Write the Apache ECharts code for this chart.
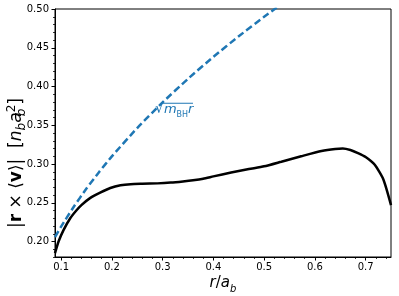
<!DOCTYPE html>
<html><head><meta charset="utf-8">
<script src="https://cdn.jsdelivr.net/npm/echarts@6/dist/echarts.min.js"></script>
<style>html,body{margin:0;padding:0;background:#fff}#c{width:399px;height:296px}</style>
</head><body><div id="c"></div>
<script>
// black curve: |r x <v>| vs r/a_b
const rValues = [0.088,0.095,0.105,0.118,0.130,0.140,0.157,0.177,0.197,0.217,0.237,0.260,0.290,0.316,0.340,0.360,0.380,0.400,0.435,0.470,0.500,0.534,0.573,0.613,0.640,0.655,0.670,0.685,0.700,0.718,0.735,0.750];
const angMom  = [0.185,0.200,0.215,0.230,0.240,0.247,0.256,0.263,0.269,0.2725,0.274,0.2745,0.275,0.276,0.2775,0.279,0.281,0.284,0.289,0.2935,0.297,0.303,0.310,0.3168,0.3195,0.320,0.318,0.314,0.309,0.299,0.280,0.247];
// blue dashed curve: sqrt(m_BH r)
const rSqrt    = [0.088,0.100,0.125,0.150,0.175,0.200,0.250,0.300,0.350,0.400,0.450,0.500,0.525];
const sqrtVals = [0.2055,0.2191,0.2449,0.2683,0.2898,0.3098,0.3464,0.3795,0.4099,0.4382,0.4648,0.4899,0.5020];
// ticks
const xTickLabels = [0.1,0.2,0.3,0.4,0.5,0.6,0.7];
const yTickLabels = [0.20,0.25,0.30,0.35,0.40,0.45,0.50];
const xMinorTicks = [0.10,0.12,0.14,0.16,0.18,0.20,0.22,0.24,0.26,0.28,0.30,0.32,0.34,0.36,0.38,0.40,0.42,0.44,0.46,0.48,0.50,0.52,0.54,0.56,0.58,0.60,0.62,0.64,0.66,0.68,0.70,0.72,0.74];
const yMinorTicks = [0.18,0.19,0.20,0.21,0.22,0.23,0.24,0.25,0.26,0.27,0.28,0.29,0.30,0.31,0.32,0.33,0.34,0.35,0.36,0.37,0.38,0.39,0.40,0.41,0.42,0.43,0.44,0.45,0.46,0.47,0.48,0.49,0.50];
const xRange = [0.088, 0.75];
const yRange = [0.18, 0.50];
const annotPos = [0.285, 0.370];

const FONT = 'DejaVu Sans';
const gridBox = {left:55, right:8, top:9, bottom:39, outerBoundsMode:'none', containLabel:false};
const chart = echarts.init(document.getElementById('c'), null, {renderer:'canvas'});
function mkRich(fs, lh){
  const s = Math.round(fs*0.68);
  return {
    b:{fontWeight:'bold', fontSize:fs, fontFamily:FONT, color:'#000', lineHeight:lh},
    i:{fontStyle:'italic', fontSize:fs, fontFamily:FONT, color:'#000', lineHeight:lh},
    n:{fontSize:fs, fontFamily:FONT, color:'#000', lineHeight:lh},
    sub:{fontStyle:'italic', fontSize:s, fontFamily:FONT, color:'#000', lineHeight:s, verticalAlign:'bottom'},
    subz:{fontStyle:'italic', fontSize:s, fontFamily:FONT, color:'#000', lineHeight:s, verticalAlign:'bottom', width:0.1},
    sup:{fontSize:s, fontFamily:FONT, color:'#000', lineHeight:s, verticalAlign:'top'}
  };
}
chart.setOption({
  animation:false,
  backgroundColor:'#fff',
  grid:[Object.assign({show:true, borderColor:'#000', borderWidth:1, backgroundColor:'transparent'}, gridBox),
        Object.assign({show:false}, gridBox)],
  xAxis:[{
    type:'value', gridIndex:0, min:xRange[0], max:xRange[1],
    axisLine:{show:true, onZero:false, lineStyle:{color:'#000', width:1}},
    axisTick:{show:true, length:3.5, customValues:xTickLabels, lineStyle:{color:'#000', width:1}},
    axisLabel:{customValues:xTickLabels, color:'#000', fontSize:10, fontFamily:FONT, margin:5, formatter:v=>v.toFixed(1)},
    splitLine:{show:false},
    name:'{i|r}{n|/}{i|a}{sub|b}', nameLocation:'middle', nameGap:15, nameMoveOverlap:false,
    nameTextStyle:{rich:mkRich(15, 22)}
  },{
    type:'value', gridIndex:1, min:xRange[0], max:xRange[1],
    axisLine:{show:false}, axisLabel:{show:false}, splitLine:{show:false},
    axisTick:{show:true, length:2, customValues:xMinorTicks, lineStyle:{color:'#000', width:0.8}}
  }],
  yAxis:[{
    type:'value', gridIndex:0, min:yRange[0], max:yRange[1],
    axisLine:{show:true, onZero:false, lineStyle:{color:'#000', width:1}},
    axisTick:{show:true, length:3.5, customValues:yTickLabels, lineStyle:{color:'#000', width:1}},
    axisLabel:{customValues:yTickLabels, color:'#000', fontSize:10, fontFamily:FONT, margin:6, formatter:v=>v.toFixed(2)},
    splitLine:{show:false},
    name:'{n||}{b|r}{n| × ⟨}{b|v}{n|⟩|  [}{i|n}{sub|b}{i|a}{subz|b}{sup|2}{n|]}', nameLocation:'middle', nameGap:27, nameRotate:90, nameMoveOverlap:false,
    nameTextStyle:{rich:mkRich(17, 22), padding:[0, 60, 0, 0]}
  },{
    type:'value', gridIndex:1, min:yRange[0], max:yRange[1],
    axisLine:{show:false}, axisLabel:{show:false}, splitLine:{show:false},
    axisTick:{show:true, length:2, customValues:yMinorTicks, lineStyle:{color:'#000', width:0.8}}
  }],
  series:[{
    type:'line', xAxisIndex:0, yAxisIndex:0, showSymbol:false, smooth:0.2,
    data: rSqrt.map((x,i)=>[x, sqrtVals[i]]),
    lineStyle:{color:'#1f77b4', width:2.5, type:[7,3.5]}, z:2
  },{
    type:'line', xAxisIndex:0, yAxisIndex:0, showSymbol:false, smooth:0.2,
    data: rValues.map((x,i)=>[x, angMom[i]]),
    lineStyle:{color:'#000', width:2.5}, z:3
  }]
});
const p = chart.convertToPixel({gridIndex:0}, annotPos);
chart.setOption({graphic:[
  {type:'text', x:p[0], y:p[1], style:{
    text:'√{i|m}{sub|BH}{i|r}', fill:'#1f77b4', font:'14px "DejaVu Sans"', verticalAlign:'middle',
    rich:{
      i:{fontStyle:'italic', fontSize:13, fontFamily:FONT, fill:'#1f77b4', lineHeight:18},
      sub:{fontSize:8, fontFamily:FONT, fill:'#1f77b4', lineHeight:8, verticalAlign:'bottom'}
    }}},
  {type:'line', x:p[0], y:p[1], shape:{x1:7, y1:-6.5, x2:38, y2:-6.5}, style:{stroke:'#1f77b4', lineWidth:1}}
]});
</script></body></html>
